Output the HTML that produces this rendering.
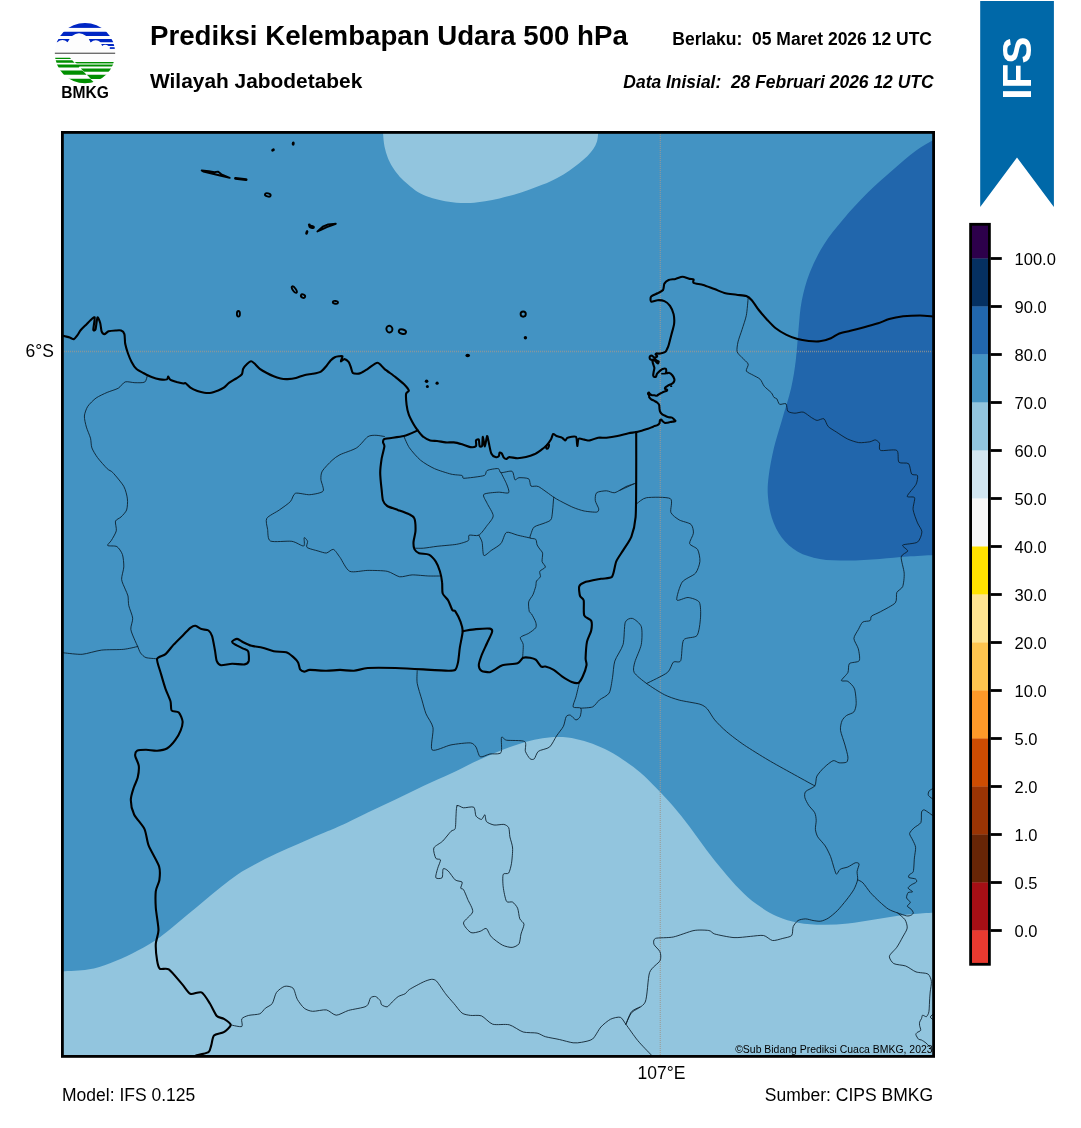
<!DOCTYPE html>
<html lang="id"><head><meta charset="utf-8"><title>Prediksi Kelembapan Udara 500 hPa</title>
<style>
html,body{margin:0;padding:0;background:#fff;}
svg{display:block;}
text{font-family:"Liberation Sans",sans-serif;fill:#000;}
.b{font-weight:bold;}
.bi{font-weight:bold;font-style:italic;}
.thick{fill:none;stroke:#000;stroke-width:2.1;stroke-linejoin:round;stroke-linecap:round;}
.thin{fill:none;stroke:#0a1a26;stroke-width:0.85;stroke-linejoin:round;stroke-linecap:round;}
.isl{fill:none;stroke:#000;stroke-width:1.9;stroke-linejoin:round;}
.islf{fill:#000;stroke:none;}
</style></head><body>
<svg width="1081" height="1128" viewBox="0 0 1081 1128">
<rect width="1081" height="1128" fill="#fff"/>

<clipPath id="lc"><circle cx="85" cy="53.1" r="30.2"/></clipPath>
<g clip-path="url(#lc)">
<rect x="54" y="22" width="62" height="62" fill="#fdfdfd"/>
<g fill="#0026c4">
<rect x="54" y="22" width="62" height="5.9"/>
<path d="M54,31.8 H116 V35.9 H86.2 Q79,30.6 72,35.9 H54 Z"/>
<path d="M54,39.1 H69.6 L67.6,42.3 Q62.5,37.6 57.2,42.3 H54 Z"/>
<path d="M88.8,39.1 H116 V42.2 H100.6 Q95.5,38 90.6,42.6 Z"/>
<path d="M101.2,44 H116 V46 H108.6 Q105,43.6 102.2,46 Z"/>
<rect x="109.8" y="47.2" width="7" height="1.7"/>
</g>
<rect x="54" y="52.6" width="62" height="1.4" fill="#6e6e6e"/>
<g fill="#008f00">
<path d="M54,57.7 H69.8 L71.2,58.9 H54 Z"/>
<path d="M54,60.2 H72.2 L74.6,62.7 H54 Z"/>
<path d="M74.6,62 H116 V63.1 H76 Z"/>
<path d="M54,64.4 H116 V66.5 H79.6 L78.8,67.6 H54 Z"/>
<path d="M80.8,68.4 H116 V71.7 H84.2 Z"/>
<path d="M54,70.4 H82.4 L86.6,74.7 H54 Z"/>
<path d="M86.9,74.8 H116 V79 H91 Z"/>
<path d="M54,78.7 H90.2 L94,82.4 L92,86 H54 Z"/>
</g>
<path d="M76,63.1 H116 V64.4 H77.2 Z" fill="#8fcf8f"/>
</g>
<text class="b" x="85.1" y="97.8" font-size="15.6" text-anchor="middle">BMKG</text>

<text class="b" x="150" y="45" font-size="27.65">Prediksi Kelembapan Udara 500 hPa</text>
<text class="b" x="150" y="88.3" font-size="20.9">Wilayah Jabodetabek</text>
<text class="b" x="932" y="44.5" font-size="17.5" text-anchor="end" xml:space="preserve">Berlaku:  05 Maret 2026 12 UTC</text>
<text class="bi" x="933.5" y="88" font-size="17.45" text-anchor="end" xml:space="preserve">Data Inisial:  28 Februari 2026 12 UTC</text>
<clipPath id="mc"><rect x="62.5" y="132.5" width="871" height="924"/></clipPath>
<g clip-path="url(#mc)">
<rect x="62" y="132" width="872" height="925" fill="#4393c3"/>
<path d="M383.1,127.4 C383.1,128.5 382.9,130.9 383.1,134.1 C383.3,137.3 383.7,142.7 384.5,146.6 C385.3,150.5 386.4,154.1 387.7,157.5 C389.0,160.9 390.5,163.9 392.5,167.1 C394.5,170.3 397.1,173.8 399.7,176.7 C402.3,179.6 405.1,182.1 408.1,184.6 C411.1,187.1 414.1,189.8 417.7,191.9 C421.3,194.0 425.7,195.8 429.7,197.2 C433.7,198.6 437.4,199.6 441.8,200.5 C446.2,201.4 451.4,202.3 456.2,202.7 C461.0,203.1 465.8,203.2 470.6,202.9 C475.4,202.7 480.3,201.9 485.1,201.2 C489.9,200.4 494.7,199.5 499.5,198.4 C504.3,197.3 509.1,196.1 513.9,194.7 C518.7,193.3 523.6,191.6 528.4,189.9 C533.2,188.2 538.0,186.6 542.8,184.6 C547.6,182.6 552.8,180.2 557.2,177.9 C561.6,175.6 565.6,173.1 569.2,170.7 C572.8,168.3 575.9,165.9 578.9,163.5 C581.9,161.1 584.9,158.7 587.3,156.3 C589.7,153.9 591.7,151.5 593.3,149.1 C594.9,146.7 596.1,144.3 596.9,141.8 C597.7,139.3 597.9,136.5 598.1,134.1 C598.3,131.7 598.3,128.5 598.3,127.4 Z" fill="#92c5de"/>
<path d="M938.0,137.5 C934.2,139.7 923.2,145.3 915.5,150.9 C907.8,156.5 899.6,163.9 891.6,170.9 C883.6,177.9 875.6,184.8 867.6,192.8 C859.6,200.8 851.0,210.0 843.7,218.7 C836.4,227.3 829.4,235.7 823.8,244.7 C818.1,253.7 813.5,263.3 809.8,272.6 C806.1,281.9 803.7,291.2 801.8,300.5 C799.9,309.8 799.6,318.4 798.6,328.4 C797.6,338.4 797.0,350.3 795.8,360.3 C794.5,370.3 793.4,378.3 791.1,388.3 C788.8,398.3 784.8,410.2 781.9,420.2 C779.0,430.2 776.1,438.8 773.9,448.1 C771.7,457.4 769.7,468.0 768.7,476.0 C767.7,484.0 767.4,489.0 767.9,496.0 C768.4,503.0 769.6,510.9 771.9,517.9 C774.2,524.9 777.6,532.1 781.9,537.8 C786.2,543.4 791.5,548.3 797.8,551.8 C804.1,555.3 811.5,557.5 819.8,559.0 C828.1,560.5 837.7,560.6 847.7,560.6 C857.7,560.6 869.6,559.7 879.6,559.0 C889.6,558.3 897.8,557.3 907.5,556.6 C917.2,555.9 932.9,555.1 938.0,554.8 Z" fill="#2166ac"/>
<path d="M58.0,971.6 C63.0,971.3 79.1,971.0 87.8,969.6 C96.5,968.2 102.6,965.9 110.0,963.2 C117.4,960.5 124.8,957.2 132.2,953.5 C139.6,949.8 147.9,945.2 154.4,941.0 C160.9,936.8 165.4,932.9 171.0,928.5 C176.6,924.1 182.1,919.2 187.7,914.6 C193.2,910.0 198.8,905.3 204.3,900.7 C209.9,896.1 215.4,891.3 221.0,886.9 C226.6,882.5 232.0,878.1 237.6,874.4 C243.2,870.7 247.8,868.2 254.3,864.7 C260.8,861.2 269.1,857.0 276.5,853.5 C283.9,850.0 291.3,847.0 298.7,843.8 C306.1,840.6 314.0,837.1 320.9,834.1 C327.8,831.1 332.5,829.4 340.3,825.8 C348.1,822.2 358.6,816.8 367.8,812.4 C377.0,808.0 386.2,803.8 395.5,799.4 C404.8,795.0 414.1,790.3 423.3,786.0 C432.6,781.7 442.7,777.4 451.0,773.5 C459.3,769.6 465.8,765.9 473.2,762.4 C480.6,758.9 488.0,755.7 495.4,752.7 C502.8,749.7 511.1,746.6 517.6,744.4 C524.1,742.2 528.8,740.9 534.3,739.7 C539.8,738.5 545.3,737.7 550.9,737.3 C556.5,736.9 562.0,736.9 567.6,737.5 C573.2,738.1 578.7,739.5 584.2,741.1 C589.8,742.7 595.4,744.7 600.9,747.2 C606.4,749.7 611.0,751.9 617.5,756.1 C624.0,760.3 633.5,766.8 640.0,772.2 C646.5,777.6 651.0,782.6 656.5,788.3 C662.0,794.0 667.7,799.8 673.2,806.2 C678.8,812.7 684.2,819.7 689.8,827.0 C695.3,834.3 701.0,842.6 706.5,849.9 C712.0,857.2 717.6,864.1 723.1,870.7 C728.6,877.3 734.2,883.9 739.8,889.4 C745.3,894.9 750.1,899.5 756.4,904.0 C762.6,908.5 770.3,913.4 777.3,916.5 C784.2,919.6 790.5,921.3 798.1,922.7 C805.7,924.1 814.8,924.6 823.1,924.8 C831.4,924.9 839.7,924.4 848.0,923.6 C856.3,922.8 864.7,921.1 873.0,919.8 C881.3,918.5 889.7,916.8 898.0,915.7 C906.3,914.6 916.3,913.7 923.0,913.2 C929.7,912.7 935.5,912.7 938.0,912.6 L938.0,1060.0 L58.0,1060.0 Z" fill="#92c5de"/>
<line x1="62" y1="351.5" x2="934" y2="351.5" stroke="#a09a90" stroke-width="1.3" stroke-dasharray="0.9,1.1" opacity="0.8"/>
<line x1="660.3" y1="132" x2="660.3" y2="1057" stroke="#a09a90" stroke-width="1.3" stroke-dasharray="0.9,1.1" opacity="0.8"/>
<path class="thin" d="M147.4,375.2 C147.1,376.1 146.3,381.2 144.7,382.1 C143.1,383.0 137.3,382.7 134.9,382.7 C132.5,382.7 127.3,381.2 125.2,381.9 C123.1,382.6 120.5,386.9 118.3,388.2 C116.0,389.5 110.0,391.2 107.2,392.4 C104.4,393.6 98.5,396.3 96.1,398.0 C93.7,399.7 89.3,404.1 87.8,406.3 C86.3,408.6 84.6,413.4 84.4,416.0 C84.2,418.6 85.6,424.3 86.4,427.1 C87.2,429.9 89.8,435.6 90.5,438.2 C91.2,440.8 91.0,445.5 91.9,447.9 C92.8,450.3 95.6,455.0 97.5,457.6 C99.4,460.2 105.3,466.8 107.2,468.7 C109.1,470.6 110.9,470.5 112.7,472.5 C114.8,474.7 122.0,483.1 123.8,486.4 C125.6,489.7 127.1,495.9 127.4,498.9 C127.8,501.8 127.4,507.8 126.6,510.0 C125.8,512.2 122.5,515.5 121.1,516.9 C119.7,518.3 116.1,519.4 115.5,521.1 C114.9,522.8 116.8,528.4 116.3,530.8 C115.8,533.2 112.4,538.7 111.3,540.5 C110.2,542.3 107.0,544.7 107.7,545.5 C108.4,546.3 115.1,545.5 116.9,546.6 C118.7,547.7 121.5,551.9 122.4,554.4 C123.3,556.9 123.9,563.8 123.8,566.9 C123.7,570.0 121.4,576.5 121.6,579.3 C121.8,582.1 124.4,587.0 125.2,589.1 C126.0,591.2 127.5,593.9 128.0,596.0 C128.4,598.1 128.2,602.9 128.8,605.7 C129.4,608.5 132.4,615.2 132.7,618.2 C132.9,621.2 130.5,626.5 130.8,629.3 C131.1,632.1 134.0,638.2 134.9,640.4 C135.8,642.5 137.0,644.9 137.7,646.5 C138.4,648.1 139.5,651.5 140.5,652.9 C141.5,654.3 143.9,656.9 146.0,657.6 C148.1,658.3 155.7,658.6 157.1,658.8"/>
<path class="thin" d="M62.0,652.5 C62.3,652.5 63.3,652.8 64.2,652.9 C66.7,653.1 77.5,654.6 82.2,654.3 C86.9,653.9 96.4,650.7 101.6,650.1 C106.8,649.5 119.3,649.8 123.8,649.3 C128.3,648.8 136.0,646.9 137.7,646.5"/>
<path class="thin" d="M384.4,436.5 C383.4,436.4 378.2,435.3 376.1,435.3 C374.0,435.3 370.2,435.1 367.8,436.7 C365.4,438.3 360.2,445.6 356.7,447.8 C353.2,450.1 343.1,453.1 340.0,454.7 C336.9,456.3 334.2,458.3 332.0,460.4 C329.8,462.4 323.7,468.7 322.3,471.1 C320.9,473.5 320.8,476.9 320.9,479.4 C321.0,481.9 324.5,489.2 323.1,491.1 C321.7,493.0 313.3,494.4 309.8,494.7 C306.3,495.0 297.8,492.4 295.4,493.3 C293.0,494.2 292.4,499.5 290.4,501.6 C288.4,503.7 282.2,507.9 279.3,510.0 C276.4,512.1 268.3,515.9 266.8,518.3 C265.3,520.7 267.2,526.6 267.6,529.4 C268.1,532.2 267.4,539.5 270.4,541.0 C273.4,542.5 287.6,540.7 291.8,541.3 C296.0,541.9 302.1,546.5 303.7,546.0 C305.2,545.5 303.7,538.3 304.2,537.7 C304.7,537.1 307.2,540.1 307.6,541.3 C308.0,542.5 305.7,546.2 307.0,547.4 C308.3,548.6 315.7,550.3 318.1,551.0 C320.5,551.7 324.5,553.2 326.4,553.0 C328.3,552.8 331.7,548.9 333.4,549.4 C335.1,549.9 338.0,554.7 340.0,557.4 C342.0,560.1 346.2,569.7 349.7,571.3 C353.2,572.9 363.1,570.4 367.8,570.4 C372.5,570.4 383.2,570.5 387.2,571.3 C391.2,572.1 396.6,576.3 399.7,576.8 C402.8,577.2 408.6,575.0 412.2,574.9 C415.8,574.8 425.3,575.9 428.8,576.0 C432.3,576.1 438.5,576.0 439.9,576.0"/>
<path class="thin" d="M403.8,436.1 C404.5,437.6 407.3,444.8 409.4,447.8 C411.5,450.8 417.4,457.6 420.5,460.2 C423.6,462.8 430.6,466.9 434.4,468.6 C438.2,470.3 447.5,473.2 451.0,474.1 C454.5,475.0 460.5,475.0 462.1,475.5 C463.3,475.9 462.2,478.3 463.5,478.3 C466.3,478.3 481.4,476.5 484.3,475.5 C486.5,474.8 485.4,471.4 487.1,470.5 C488.8,469.6 496.5,468.3 498.2,468.6 C499.9,468.9 499.3,472.4 501.0,472.7 C502.7,473.0 510.4,470.4 512.1,471.3 C513.8,472.2 514.0,478.9 514.9,479.7 C515.8,480.5 517.3,477.8 519.0,477.7 C520.7,477.6 527.2,477.8 528.7,478.8 C530.2,479.9 529.8,485.1 531.0,486.1 C532.2,487.1 535.8,485.3 538.5,486.6 C541.3,488.0 551.1,495.5 553.7,497.2 C555.9,498.6 557.0,499.3 559.3,500.5 C561.7,501.8 570.0,506.1 573.1,507.4 C576.2,508.7 581.2,510.4 584.2,511.0 C587.2,511.6 594.9,512.4 596.7,512.1 C598.2,511.9 598.9,510.2 598.7,508.8 C598.5,507.4 595.5,502.5 595.3,500.5 C595.0,498.5 595.3,493.9 596.7,492.7 C598.1,491.5 604.1,490.8 606.4,490.8 C608.7,490.8 612.4,493.2 614.8,492.7 C617.2,492.2 623.3,487.8 625.9,486.6 C628.5,485.4 634.4,483.7 635.6,483.3"/>
<path class="thin" d="M501.0,472.7 C501.7,474.1 505.5,481.3 506.5,483.8 C507.5,486.3 509.7,491.6 508.7,492.7 C507.7,493.8 501.3,492.0 498.2,492.2 C495.1,492.4 485.2,493.0 483.8,494.4 C482.4,495.8 485.9,500.6 487.1,503.3 C488.3,506.0 493.2,513.0 493.2,515.8 C493.2,518.6 488.9,523.1 487.1,525.5 C485.3,527.9 481.1,534.0 478.8,535.2 C476.6,536.4 470.4,534.5 469.1,535.2 C467.8,535.9 469.8,539.6 468.2,540.7 C466.6,541.8 460.5,543.6 456.6,544.3 C452.7,545.0 441.3,545.8 437.1,546.3 C432.9,546.8 426.1,548.0 423.3,548.2 C420.5,548.4 415.5,548.2 414.4,548.2"/>
<path class="thin" d="M478.8,535.2 C479.2,536.1 481.5,539.6 482.1,542.1 C482.7,544.6 482.7,554.4 483.8,555.4 C484.9,556.4 489.2,551.9 491.3,550.4 C493.4,548.9 499.1,545.8 501.0,543.5 C502.9,541.2 504.4,533.4 506.5,532.4 C508.6,531.4 514.6,534.5 517.6,535.2 C520.6,535.9 528.5,537.6 530.1,538.0"/>
<path class="thin" d="M553.7,497.2 C553.4,499.9 552.5,515.3 551.5,518.5 C550.6,521.3 547.5,521.7 545.4,522.7 C543.2,523.8 536.1,525.5 534.3,526.9 C532.5,528.3 531.5,532.4 531.0,533.8 C530.5,535.2 529.5,537.3 530.1,538.0 C530.7,538.7 534.8,538.4 535.7,539.3 C536.6,540.2 536.6,543.7 537.1,544.9 C537.6,546.1 539.1,548.1 539.8,549.1 C540.5,550.1 542.3,551.6 542.6,553.2 C542.9,554.8 541.8,559.9 542.1,561.6 C542.5,563.3 545.7,565.9 545.4,567.1 C545.1,568.3 540.4,570.1 539.8,571.3 C539.2,572.5 540.8,575.6 540.4,576.8 C540.0,578.0 537.1,579.8 536.5,581.0 C535.9,582.2 536.2,584.8 535.7,586.5 C535.2,588.2 533.8,592.9 532.9,594.8 C532.0,596.7 529.2,599.7 528.7,601.8 C528.2,603.9 528.9,610.0 529.3,611.5 C529.6,612.8 530.8,612.8 531.5,613.9 C532.3,615.2 535.2,620.5 535.7,622.2 C536.2,623.9 536.6,626.4 535.7,627.8 C534.8,629.2 530.6,632.1 528.7,633.3 C526.8,634.5 521.1,636.1 520.4,637.5 C519.7,638.9 522.9,641.9 523.2,644.4 C523.5,646.9 522.7,656.0 522.6,657.7"/>
<path class="thin" d="M620.0,490.3 C621.8,489.5 632.4,484.6 634.2,483.8"/>
<path class="thin" d="M636.9,503.6 C638.1,502.9 642.4,498.3 646.6,497.7 C650.8,497.1 667.3,496.8 670.3,498.6 C673.3,500.5 669.8,509.8 670.9,512.5 C672.0,515.2 676.7,518.4 679.2,519.9 C681.7,521.4 689.2,522.7 691.0,524.4 C692.8,526.1 693.6,530.8 693.4,533.2 C693.2,535.6 689.1,541.6 689.6,543.6 C690.1,545.6 696.3,547.3 697.6,549.5 C698.9,551.7 700.2,558.4 699.9,561.4 C699.6,564.4 697.7,570.6 695.5,573.2 C693.3,575.8 684.5,578.8 682.2,582.1 C679.9,585.4 676.1,598.0 676.8,599.9 C677.5,601.8 685.3,597.2 688.1,597.5 C690.9,597.8 697.8,599.7 699.3,602.2 C700.8,604.7 700.8,613.6 700.5,617.8 C700.2,622.0 699.1,632.7 697.0,635.5 C694.9,638.3 685.6,636.9 683.6,640.0 C681.6,643.1 682.0,657.9 680.7,660.7 C679.4,663.4 675.0,660.7 673.3,662.2 C671.6,663.7 670.7,669.8 667.4,672.5 C664.1,675.2 649.2,682.1 646.6,683.5"/>
<path class="thin" d="M580.9,708.2 C582.4,708.0 590.3,707.9 592.6,706.9 C594.9,705.9 597.4,701.6 599.5,699.9 C601.6,698.2 607.6,695.8 609.2,693.0 C610.8,690.2 611.8,681.7 612.5,677.7 C613.2,673.7 613.5,665.3 614.8,661.1 C616.1,656.9 621.8,649.3 623.1,644.4 C624.4,639.5 624.1,625.5 625.3,622.2 C626.4,619.2 630.4,617.9 632.4,618.4 C634.4,618.9 640.2,623.4 641.3,626.6 C642.4,629.9 642.1,639.9 641.3,644.4 C640.5,648.9 635.7,658.7 634.8,662.2 C633.9,665.7 632.7,669.8 634.2,672.5 C635.7,675.2 642.8,680.7 646.6,683.5 C650.4,686.3 660.3,692.6 664.4,694.7 C668.5,696.8 674.8,698.9 679.2,700.1 C683.6,701.3 696.4,703.1 699.9,704.2 C703.2,705.2 705.4,706.9 707.3,708.9 C709.1,710.9 712.3,717.0 714.7,719.9 C717.1,722.8 722.9,728.6 726.6,731.7 C730.3,734.9 739.1,741.6 744.3,745.1 C749.5,748.6 762.1,756.4 768.0,759.9 C773.9,763.4 785.9,770.0 791.7,773.2 C797.6,776.5 811.9,784.3 814.8,785.9"/>
<path class="thin" d="M417.2,670.8 C417.2,672.4 416.6,679.7 417.2,683.3 C417.8,686.9 420.8,696.1 421.9,699.9 C423.0,703.7 424.6,710.3 426.0,713.8 C427.4,717.3 432.2,723.2 433.0,727.7 C433.8,732.2 429.9,747.8 432.1,749.9 C434.4,752.0 446.2,745.8 451.0,744.9 C455.8,744.0 467.3,742.6 470.4,742.9 C473.2,743.1 474.8,745.4 476.0,747.1 C477.2,748.8 478.5,755.9 480.2,756.8 C481.9,757.7 487.3,754.5 489.9,754.0 C492.5,753.5 499.6,754.7 501.0,752.6 C502.4,750.5 500.8,738.9 501.5,737.4 C502.2,735.9 504.2,739.8 506.5,740.2 C509.4,740.7 522.2,740.1 524.6,741.5 C527.0,742.9 524.7,749.1 525.4,751.3 C526.1,753.5 529.0,757.9 530.1,758.8 C531.2,759.7 533.3,759.7 534.3,758.8 C535.3,757.9 536.5,752.8 538.4,751.3 C540.3,749.8 547.2,749.0 549.5,747.1 C551.8,745.2 554.8,738.6 556.5,736.0 C558.2,733.4 562.2,728.7 563.4,726.3 C564.6,723.9 565.3,718.0 566.2,716.6 C567.1,715.2 569.2,714.8 570.4,715.2 C571.6,715.6 574.7,719.7 575.9,719.9 C577.1,720.1 579.5,718.1 580.1,716.6 C580.7,715.1 581.8,709.4 580.9,708.2 C580.0,707.0 573.7,708.3 573.1,706.9 C572.5,705.5 575.1,700.1 575.9,697.1 C576.7,694.1 578.8,685.0 579.2,683.3"/>
<path class="thin" d="M748.2,297.5 C748.0,299.8 747.1,311.5 746.3,315.5 C745.5,319.5 743.1,326.1 742.1,329.4 C741.1,332.7 738.6,339.1 738.0,341.9 C737.4,344.7 736.6,349.6 737.1,351.6 C737.6,353.6 740.7,356.1 742.1,357.7 C743.5,359.3 747.7,362.4 748.2,364.1 C748.7,365.8 745.7,369.6 746.3,371.0 C746.9,372.4 751.5,374.2 753.2,375.2 C754.9,376.2 758.8,377.9 760.2,379.3 C761.6,380.7 762.9,384.6 764.3,386.3 C765.7,388.0 770.1,391.3 771.3,392.7 C772.5,394.1 773.3,396.6 774.0,397.4 C774.7,398.2 776.1,397.9 776.8,398.8 C777.5,399.7 778.5,403.7 779.6,404.3 C780.8,404.9 785.0,402.9 786.0,403.8 C787.0,404.7 786.8,410.1 787.9,411.3 C789.0,412.5 793.0,413.1 794.9,413.2 C796.8,413.3 801.1,411.6 803.2,412.1 C805.3,412.7 809.8,416.6 811.5,417.6 C813.2,418.6 815.5,420.2 817.1,420.4 C818.7,420.5 822.6,418.0 824.0,418.8 C825.4,419.6 826.6,424.8 828.2,426.5 C829.8,428.2 834.1,430.5 836.5,432.1 C838.9,433.7 844.8,437.7 847.6,439.0 C850.4,440.3 855.9,442.2 858.7,442.6 C861.5,443.0 867.7,442.1 869.8,441.8 C871.9,441.5 874.1,439.7 875.3,439.9 C876.5,440.1 878.9,441.9 879.5,443.2 C880.1,444.5 878.3,449.5 880.5,450.4 C882.7,451.3 894.5,448.9 896.8,450.4 C899.1,451.9 897.4,460.5 898.9,462.2 C900.4,463.9 907.0,462.2 908.6,463.7 C910.2,465.2 910.5,472.5 911.6,474.0 C912.7,475.5 917.0,474.2 917.5,475.5 C918.0,476.8 917.3,481.8 916.0,484.4 C914.7,487.0 907.4,494.5 907.2,496.2 C907.0,497.9 913.9,496.0 914.6,497.7 C915.3,499.4 912.7,506.5 913.1,509.6 C913.5,512.8 916.4,520.1 917.5,522.9 C918.6,525.7 921.9,529.4 921.9,531.8 C921.9,534.2 919.9,540.4 917.5,542.1 C915.1,543.8 903.9,544.0 902.7,545.1 C901.5,546.2 907.9,549.5 907.7,551.0 C907.5,552.5 901.6,554.1 901.2,556.9 C900.8,559.7 904.0,569.5 904.2,573.2 C904.4,576.9 903.6,584.1 902.7,586.5 C901.8,588.9 897.7,590.5 896.8,592.5 C895.9,594.5 897.3,600.4 895.3,602.8 C893.3,605.2 883.5,610.0 880.5,611.7 C877.5,613.4 872.9,615.0 871.6,616.1 C870.3,617.2 871.2,619.9 870.1,620.6 C869.0,621.4 864.2,621.0 862.7,622.1 C861.2,623.2 859.4,627.6 858.3,629.6 C857.2,631.6 853.9,636.1 853.9,638.5 C853.9,640.9 857.6,646.0 858.3,648.8 C859.0,651.6 860.3,658.9 859.2,660.7 C858.1,662.6 850.8,662.1 849.4,663.6 C848.0,665.1 848.9,670.4 847.9,672.5 C846.9,674.6 841.4,679.4 841.4,680.5 C841.4,681.6 846.3,680.4 847.9,681.4 C849.5,682.4 853.5,686.0 854.5,688.8 C855.5,691.6 856.3,700.7 856.2,703.6 C856.1,706.5 855.1,710.4 853.9,711.9 C852.7,713.4 848.0,714.4 846.5,715.5 C845.0,716.6 842.8,718.9 842.0,720.8 C841.2,722.6 840.1,727.3 840.5,730.3 C840.9,733.3 844.1,741.8 845.0,745.1 C845.9,748.4 847.7,754.8 847.9,756.9 C848.1,759.0 847.6,761.5 846.5,762.2 C845.4,762.9 840.8,763.0 839.1,762.8 C837.4,762.6 835.0,760.1 833.1,760.7 C831.2,761.3 826.3,765.4 824.3,767.3 C822.3,769.2 818.1,773.8 816.9,776.1 C815.7,778.4 816.2,784.0 814.8,785.9 C813.4,787.8 806.8,790.1 805.6,791.6 C804.4,793.1 804.5,796.0 804.9,797.7 C805.3,799.4 807.4,803.3 808.6,805.2 C809.8,807.1 813.8,810.8 814.7,812.7 C815.7,814.6 816.1,818.2 816.2,820.3 C816.3,822.4 815.2,827.2 815.4,829.3 C815.6,831.4 816.5,834.7 817.7,836.8 C818.9,838.9 823.6,843.4 825.2,845.9 C826.8,848.4 829.4,853.6 830.5,856.4 C831.6,859.2 833.5,866.3 834.2,868.5 C835.0,870.7 835.7,874.1 836.5,874.2 C837.3,874.3 838.9,870.1 840.3,869.2 C841.7,868.3 845.9,867.8 847.8,867.0 C849.7,866.2 853.9,863.2 855.3,862.8 C856.7,862.4 858.9,862.9 859.1,864.0 C859.3,865.1 857.3,869.5 857.1,871.5 C856.9,873.5 858.0,877.5 857.6,879.8 C857.2,882.1 855.2,887.1 853.8,889.6 C852.4,892.1 848.4,897.5 846.3,900.1 C844.2,902.7 839.6,908.4 837.3,910.7 C835.0,913.0 830.3,916.9 828.2,918.2 C826.1,919.5 822.6,920.9 820.7,921.2 C818.8,921.5 815.0,920.8 813.1,920.5 C811.2,920.2 807.5,918.9 805.6,918.9 C803.7,918.9 799.6,919.5 798.1,920.5 C796.6,921.5 794.0,924.7 793.2,926.6 C792.4,928.5 793.0,934.0 791.7,935.5 C790.4,937.0 785.2,937.8 782.8,938.4 C780.4,939.0 774.9,940.9 772.5,940.5 C770.1,940.1 766.4,936.0 763.6,935.5 C760.8,935.0 754.0,936.1 750.3,936.4 C746.6,936.7 738.5,937.9 734.0,937.6 C729.5,937.3 717.9,934.9 714.7,934.0 C712.1,933.3 711.4,930.9 708.8,930.5 C706.2,930.1 698.4,929.7 694.0,930.5 C689.6,931.3 678.1,936.0 673.3,937.0 C668.5,938.0 657.9,937.5 655.5,938.4 C653.2,939.3 653.4,942.7 654.0,944.4 C654.6,946.1 659.2,949.8 660.0,951.8 C660.8,953.8 661.3,958.1 660.0,960.7 C658.7,963.3 651.5,967.3 649.6,972.5 C647.8,977.7 647.4,997.1 645.2,1002.1 C643.0,1007.1 634.2,1009.7 631.8,1012.5 C629.4,1015.3 626.6,1022.8 625.9,1024.3"/>
<path class="thin" d="M857.6,879.8 C858.3,880.2 861.3,881.2 862.9,882.8 C864.5,884.4 868.3,890.2 870.4,892.6 C872.5,895.0 877.1,899.5 879.4,901.6 C881.7,903.7 886.2,907.8 888.5,909.2 C890.8,910.6 895.2,912.1 897.5,912.9 C899.8,913.7 904.9,915.6 906.6,915.9 C908.3,916.2 910.3,915.6 911.1,915.2 C911.9,914.8 913.3,913.6 913.3,912.9 C913.3,912.1 911.9,910.1 911.1,909.2 C910.4,908.4 907.4,907.0 907.3,906.1 C907.2,905.2 910.4,903.4 910.3,902.4 C910.2,901.4 906.9,899.1 906.6,897.9 C906.3,896.7 907.4,893.4 908.1,892.6 C908.9,891.8 912.6,892.4 912.6,891.8 C912.6,891.2 908.3,889.0 908.1,888.1 C907.9,887.2 910.1,885.8 911.1,885.0 C912.1,884.2 915.8,882.8 916.4,882.0 C917.0,881.2 916.6,879.6 915.6,879.0 C914.6,878.4 909.5,878.1 908.8,877.5 C908.0,876.9 909.0,875.2 909.6,874.5 C910.2,873.8 912.8,873.3 913.3,871.5 C913.9,869.4 914.1,860.9 914.4,857.9 C914.7,854.9 915.8,849.6 915.6,847.4 C915.4,845.1 913.4,841.6 912.6,839.9 C911.9,838.2 909.4,835.0 909.6,833.5 C909.8,832.0 912.7,829.2 914.1,827.8 C915.5,826.4 920.0,824.5 920.9,822.5 C921.8,820.5 921.1,813.6 921.6,812.0 C922.0,810.6 923.2,809.5 924.6,810.0 C926.1,810.6 932.8,815.7 934.0,816.5"/>
<path class="thin" d="M897.5,912.9 C898.4,913.8 903.8,917.8 905.0,919.7 C906.2,921.6 907.5,925.9 907.2,928.1 C906.9,930.3 904.0,934.6 902.7,937.0 C901.4,939.4 898.5,944.9 896.8,947.3 C895.1,949.7 889.8,954.2 889.4,956.2 C889.0,958.2 891.8,962.4 893.8,963.6 C895.8,964.8 902.9,965.0 905.7,966.0 C908.5,967.0 913.2,970.9 916.0,971.9 C918.8,972.9 926.0,972.8 927.9,974.0 C929.8,975.2 931.1,979.1 931.4,981.4 C931.7,983.6 930.4,989.7 930.2,992.0 C930.0,994.3 929.7,997.9 929.6,1000.0 C929.5,1002.1 929.3,1007.2 929.2,1008.9 C929.1,1010.6 928.9,1012.3 928.5,1013.3 C928.1,1014.3 927.0,1016.5 926.3,1016.7 C925.6,1016.9 923.2,1015.0 922.6,1015.2 C922.0,1015.4 921.9,1017.6 921.5,1018.5 C921.1,1019.4 919.8,1021.3 919.6,1022.2 C919.4,1023.1 919.5,1024.5 919.6,1025.5 C919.7,1026.5 921.0,1029.4 920.7,1030.3 C920.4,1031.2 917.6,1032.0 917.0,1032.6 C916.4,1033.2 915.7,1034.0 915.9,1034.8 C916.1,1035.6 917.8,1038.5 918.5,1039.2 C919.2,1039.9 920.6,1039.5 921.5,1040.0 C922.4,1040.5 924.9,1042.1 925.9,1042.9 C926.9,1043.7 928.6,1045.6 929.6,1046.6 C930.6,1047.5 933.5,1050.0 934.0,1050.5"/>
<path class="thin" d="M934.0,788.0 C933.4,788.4 929.9,790.0 929.2,790.9 C928.5,791.8 927.8,794.3 928.4,795.4 C929.0,796.5 933.3,799.4 934.0,800.0"/>
<path class="thin" d="M934.0,1013.5 C933.5,1013.9 930.3,1016.1 930.3,1017.0 C930.3,1017.9 933.5,1020.1 934.0,1020.5"/>
<path class="thin" d="M230.7,1024.9 C232.1,1025.1 240.4,1027.3 241.8,1026.5 C243.2,1025.7 240.9,1020.2 241.8,1018.8 C242.7,1017.4 246.4,1016.0 248.7,1015.4 C250.9,1014.8 257.7,1014.7 259.8,1013.8 C261.9,1012.9 263.8,1009.5 265.4,1008.2 C267.0,1006.9 270.9,1005.5 272.3,1003.5 C273.7,1001.5 274.9,994.5 276.5,992.4 C278.1,990.2 282.7,986.8 284.8,986.3 C286.9,985.8 291.5,986.6 293.1,988.2 C294.7,989.8 295.9,996.8 297.3,999.3 C298.7,1001.8 302.3,1006.7 304.2,1008.2 C306.1,1009.7 309.8,1011.1 312.6,1011.3 C315.4,1011.5 323.4,1009.4 326.4,1009.9 C329.3,1010.4 333.4,1015.1 336.2,1015.2 C339.0,1015.3 344.8,1011.5 348.6,1010.4 C352.4,1009.3 363.7,1007.8 366.4,1006.2 C369.1,1004.6 369.4,999.1 370.5,997.9 C371.6,996.7 374.3,996.2 375.5,996.5 C376.7,996.8 379.4,999.6 380.2,1000.6 C381.0,1001.6 380.7,1004.0 381.6,1004.8 C382.5,1005.6 385.9,1007.1 387.2,1006.8 C388.5,1006.4 390.8,1003.3 392.2,1002.0 C393.6,1000.7 396.7,997.5 398.3,996.5 C399.9,995.5 403.8,994.6 405.2,993.7 C406.6,992.8 407.4,990.8 409.4,989.5 C411.7,988.0 420.5,983.3 423.3,982.0 C426.1,980.7 429.9,979.4 431.6,979.3 C433.3,979.2 435.1,979.7 436.6,981.2 C438.3,983.0 443.4,990.9 445.5,993.7 C447.6,996.5 451.7,1001.0 453.8,1003.4 C455.9,1005.8 460.0,1011.6 462.1,1013.1 C464.2,1014.6 468.0,1015.0 470.4,1015.4 C472.8,1015.8 478.7,1014.8 481.5,1015.9 C484.3,1017.0 489.2,1023.1 492.7,1024.2 C496.2,1025.3 505.5,1023.8 509.3,1024.8 C513.1,1025.8 519.7,1031.0 523.2,1032.0 C526.7,1033.0 534.3,1032.5 537.1,1033.1 C539.9,1033.7 542.6,1035.9 545.4,1036.7 C548.2,1037.5 555.8,1038.7 559.3,1039.5 C562.8,1040.3 570.3,1042.5 573.1,1042.8 C575.9,1043.1 579.1,1042.8 581.5,1042.3 C583.9,1041.8 590.2,1040.9 592.6,1039.0 C595.0,1037.1 598.6,1029.5 600.9,1027.0 C603.1,1024.5 608.2,1020.4 610.6,1019.2 C613.0,1018.0 618.4,1016.7 620.3,1017.3 C622.2,1017.9 623.7,1021.4 625.9,1024.3 C628.1,1027.2 634.6,1036.8 637.8,1040.6 C640.9,1044.4 649.4,1053.0 651.1,1054.8"/>
<path class="thin" d="M625.9,1024.3 C626.6,1022.7 629.6,1014.0 631.4,1011.8 C633.2,1009.6 638.9,1007.6 640.0,1007.0"/>
<path class="thin" d="M457.1,805.5 C458.0,804.5 461.4,807.6 463.5,807.8 C465.6,808.0 472.2,806.2 473.8,807.2 C475.4,808.2 475.0,814.6 476.0,816.1 C477.0,817.6 480.4,819.6 481.5,819.4 C482.6,819.2 484.3,814.4 484.9,814.7 C485.5,815.0 485.4,820.3 486.5,821.6 C487.6,822.9 491.8,824.6 494.0,825.0 C496.2,825.4 502.0,824.1 503.8,824.4 C505.6,824.7 507.9,826.1 508.7,827.7 C509.5,829.3 509.4,834.4 509.9,836.9 C510.4,839.4 512.4,844.7 512.6,848.0 C512.8,851.3 512.0,860.2 511.5,863.3 C511.0,866.4 509.7,871.6 508.7,873.0 C507.7,874.4 503.9,872.7 503.2,874.4 C502.5,876.1 502.8,883.5 503.2,886.9 C503.6,890.3 505.3,899.4 506.5,901.3 C507.7,903.2 511.2,901.2 512.6,902.1 C514.0,903.0 516.7,906.1 517.6,908.2 C518.5,910.3 519.0,916.8 519.8,918.8 C520.6,920.8 523.9,922.4 524.0,924.3 C524.1,926.2 521.6,931.6 521.0,934.0 C520.4,936.4 520.1,942.1 519.0,943.8 C517.9,945.5 514.2,947.2 512.1,947.4 C510.0,947.6 505.0,946.4 502.4,945.1 C499.8,943.8 493.3,938.9 491.3,936.8 C489.3,934.7 487.7,929.2 486.3,928.5 C484.9,927.8 482.1,930.8 480.2,931.3 C478.3,931.8 473.1,933.6 471.0,932.6 C468.9,931.6 463.3,925.5 463.5,922.9 C463.7,920.3 472.2,914.8 472.7,911.8 C473.2,908.8 468.8,902.1 467.7,899.3 C466.6,896.5 464.4,891.0 463.5,889.6 C462.8,888.5 460.9,889.1 460.7,888.2 C460.5,887.3 462.8,883.1 462.1,882.1 C461.4,881.1 456.9,881.3 455.2,879.9 C453.5,878.5 449.7,872.4 448.2,871.0 C446.7,869.6 444.0,868.0 443.2,868.8 C442.4,869.6 443.0,876.6 442.1,877.7 C441.2,878.8 436.4,878.9 435.8,877.7 C435.2,876.5 437.1,870.5 437.7,868.3 C438.3,866.1 440.7,861.1 440.5,859.9 C440.3,858.6 436.6,859.8 435.8,858.3 C435.0,856.8 432.9,850.1 433.8,848.0 C434.7,845.9 440.6,843.2 442.7,841.1 C444.8,839.0 449.4,832.9 451.0,831.3 C452.4,829.9 454.6,830.5 455.2,828.6 C455.8,826.7 455.8,819.0 456.0,816.1 C456.2,813.2 456.2,806.5 457.1,805.5 Z"/>
<path class="thick" d="M62.0,335.5 C62.3,335.6 63.3,335.9 64.2,336.1 C65.2,336.4 68.5,337.1 69.7,337.5 C70.9,337.9 73.0,339.4 73.9,339.1 C74.8,338.9 76.3,336.6 77.2,335.5 C78.1,334.4 79.6,331.4 80.8,330.0 C82.0,328.6 85.2,325.6 86.4,324.4 C87.6,323.2 89.5,321.1 90.5,320.2 C91.5,319.3 94.4,316.3 94.7,317.5 C95.0,318.7 93.2,328.5 93.3,330.0 C93.4,330.9 95.2,330.3 95.5,329.4 C96.0,327.8 96.9,318.3 97.5,317.5 C98.1,316.7 99.7,321.3 100.2,323.0 C100.7,324.7 101.1,329.9 101.6,331.3 C102.1,332.7 103.5,334.1 104.4,334.1 C105.3,334.1 107.2,331.8 108.6,331.3 C110.0,330.9 113.9,330.6 115.5,330.5 C117.1,330.4 120.0,330.1 121.1,330.5 C122.2,330.9 123.9,332.4 124.4,334.1 C124.9,335.8 124.8,341.4 125.2,343.8 C125.7,346.2 127.2,351.2 128.0,353.5 C128.8,355.8 130.6,360.0 131.6,361.9 C132.6,363.8 134.8,367.4 136.3,368.8 C137.8,370.2 141.4,372.0 143.3,373.0 C145.2,374.0 149.5,376.3 151.6,377.1 C153.7,377.9 158.0,379.1 159.9,379.4 C161.8,379.7 165.9,379.8 166.9,379.4 C167.9,379.0 167.8,376.5 168.2,376.6 C168.6,376.7 169.4,379.2 170.5,379.9 C171.6,380.6 175.0,381.4 176.6,381.9 C178.2,382.3 182.4,383.3 183.5,383.5 C184.3,383.6 184.8,382.8 185.5,383.2 C186.4,383.7 188.9,386.7 190.4,387.7 C191.9,388.7 195.7,390.4 197.4,391.0 C199.1,391.6 202.6,392.5 204.3,392.7 C206.0,392.9 209.6,393.0 211.3,392.7 C213.0,392.4 216.6,391.1 218.2,390.5 C219.8,389.9 222.4,388.7 223.8,387.7 C225.2,386.7 227.8,383.8 229.3,382.7 C230.9,381.6 234.6,379.5 236.2,378.5 C237.8,377.5 240.9,375.6 241.8,374.4 C242.7,373.2 242.5,370.1 243.2,368.8 C243.9,367.5 246.3,364.7 247.3,363.8 C248.3,362.9 250.1,361.4 251.0,361.3 C251.9,361.2 253.2,362.4 254.3,363.3 C255.4,364.2 258.2,367.6 259.8,368.8 C261.4,370.0 265.1,372.1 266.8,373.0 C268.5,373.9 272.0,375.6 273.7,376.3 C275.4,377.0 278.9,378.1 280.6,378.5 C282.3,378.9 285.7,379.2 287.6,379.1 C289.5,379.0 293.8,378.5 295.9,378.0 C298.0,377.5 302.1,375.7 304.2,375.2 C306.3,374.7 310.5,374.2 312.6,373.8 C314.7,373.4 319.2,372.6 320.9,371.6 C322.6,370.6 325.2,367.4 326.4,366.0 C327.6,364.6 329.6,361.6 330.6,360.5 C331.7,359.4 333.8,357.7 334.8,357.2 C335.8,356.7 337.9,356.4 338.9,356.3 C339.9,356.2 342.2,355.7 342.5,356.3 C342.8,356.9 340.6,360.9 340.9,361.3 C341.1,361.7 343.5,359.0 344.5,359.1 C345.5,359.2 347.8,360.9 348.6,361.9 C349.4,362.9 350.4,366.0 350.9,367.4 C351.4,368.8 352.0,372.2 352.8,373.0 C353.6,373.8 356.0,373.8 357.0,373.8 C358.0,373.8 359.4,373.6 360.8,373.0 C362.2,372.4 365.7,370.1 367.8,368.8 C369.9,367.5 375.4,362.7 377.5,362.7 C379.6,362.7 382.1,367.0 384.4,368.8 C386.6,370.6 393.1,375.2 395.5,377.1 C397.9,379.0 402.1,382.4 403.8,384.1 C405.5,385.8 408.5,389.3 408.8,390.5 C409.1,391.7 406.4,392.1 406.1,393.8 C405.8,395.6 406.3,402.3 406.6,404.9 C406.9,407.5 407.9,412.2 408.8,414.6 C409.7,417.0 412.5,422.3 413.6,424.3 C414.7,426.3 416.5,428.8 417.7,430.4 C418.9,432.0 421.7,435.6 423.3,436.8 C424.9,438.1 428.5,439.9 430.2,440.4 C431.9,440.9 435.2,440.8 437.1,441.0 C439.0,441.2 443.4,442.2 445.5,442.4 C447.6,442.6 451.7,442.2 453.8,442.4 C455.9,442.6 460.0,443.7 462.1,444.3 C464.2,444.9 468.7,446.9 470.4,447.1 C472.1,447.3 475.3,446.8 476.0,446.0 C476.7,445.2 475.6,441.2 476.0,440.4 C476.4,439.6 478.4,438.9 478.8,439.6 C479.2,440.3 479.2,445.2 479.6,446.0 C480.0,446.8 481.8,446.9 482.1,446.0 C482.5,444.9 482.5,436.7 482.9,436.8 C483.2,436.9 484.4,446.6 484.9,446.5 C485.4,446.4 486.6,436.3 487.1,436.0 C487.6,435.7 488.5,441.6 489.0,443.8 C489.5,446.0 490.5,451.8 491.3,453.5 C492.1,455.2 494.5,456.8 495.4,457.1 C496.3,457.4 498.3,456.8 498.8,456.2 C499.3,455.6 499.2,452.9 499.6,452.6 C500.0,452.3 501.3,452.9 501.8,453.5 C502.3,454.1 503.2,456.9 503.8,457.6 C504.4,458.3 505.8,459.1 506.5,459.0 C507.2,458.9 507.9,457.2 509.3,457.1 C510.7,457.0 515.5,458.2 517.6,458.2 C519.7,458.2 523.9,457.6 526.0,457.1 C528.1,456.6 532.4,455.2 534.3,454.3 C536.2,453.4 539.6,451.0 541.2,449.9 C542.8,448.8 545.6,446.4 546.8,445.1 C548.0,443.8 550.1,441.0 550.9,439.6 C551.7,438.2 552.5,434.4 553.2,434.0 C553.9,433.6 555.4,435.5 556.5,436.0 C557.6,436.5 560.9,437.1 562.0,437.7 C563.1,438.2 564.7,440.4 565.4,440.4 C566.1,440.4 566.3,438.1 567.6,437.7 C568.9,437.2 574.7,435.8 575.9,436.8 C577.1,437.8 576.9,445.8 577.3,446.0 C577.6,446.2 577.8,439.6 578.7,438.8 C579.6,438.0 582.8,439.4 584.2,439.6 C585.6,439.8 588.1,440.6 589.8,440.4 C591.5,440.2 596.0,438.0 598.1,437.7 C600.2,437.4 604.0,437.9 606.4,437.7 C608.8,437.5 614.7,436.6 617.5,436.0 C620.3,435.4 626.3,433.7 628.6,433.2 C630.9,432.7 634.4,432.5 636.1,432.1 C637.8,431.8 640.9,430.8 642.4,430.4 C643.9,430.0 646.6,429.3 648.0,428.8 C649.4,428.3 652.4,426.8 653.6,426.4 C654.8,425.9 656.8,425.6 657.5,425.2 C658.2,424.8 659.2,423.8 659.5,423.2 C659.8,422.6 659.7,420.8 659.9,420.4 C660.1,419.9 660.8,419.5 661.1,419.6 C661.5,419.7 662.2,420.8 662.7,421.2 C663.2,421.6 664.2,422.6 664.7,422.8 C665.2,423.0 666.4,422.9 667.1,422.8 C667.8,422.7 669.5,422.1 670.3,422.0 C671.1,421.9 672.9,421.8 673.5,421.6 C674.1,421.5 675.4,421.1 675.5,420.8 C675.6,420.6 674.8,420.0 674.3,419.6 C673.8,419.2 672.6,417.9 671.9,417.6 C671.2,417.3 669.5,417.4 668.7,417.2 C667.9,417.0 666.3,416.4 665.5,416.0 C664.7,415.6 662.9,414.9 662.3,414.4 C661.6,413.9 660.6,412.7 660.3,412.0 C659.9,411.3 659.6,409.7 659.5,408.8 C659.4,407.9 659.4,405.7 659.1,404.9 C658.8,404.1 657.7,403.0 657.1,402.5 C656.5,402.0 655.1,401.3 654.4,400.9 C653.7,400.5 651.9,399.8 651.2,399.3 C650.6,398.9 649.5,397.8 649.2,397.3 C649.0,396.9 649.4,396.1 649.2,395.7 C649.1,395.2 648.0,394.1 648.0,393.7 C648.0,393.3 648.5,392.4 648.8,392.5 C649.0,392.6 649.6,393.8 650.0,394.1 C650.4,394.5 651.5,395.2 652.0,395.3 C652.5,395.4 653.8,395.2 654.4,395.3 C655.0,395.4 656.2,395.8 656.8,395.7 C657.4,395.6 658.5,394.5 659.1,394.1 C659.7,393.8 660.9,393.2 661.5,392.9 C662.1,392.6 663.2,391.9 663.9,391.7 C664.5,391.4 666.3,391.1 666.7,390.9 C667.1,390.6 667.3,389.9 667.1,389.7 C666.9,389.4 665.3,389.2 665.1,388.9 C664.9,388.6 665.1,387.7 665.5,387.3 C665.9,386.9 667.3,386.1 667.9,385.7 C668.5,385.3 669.7,384.8 670.3,384.5 C670.9,384.2 672.2,383.8 672.7,383.3 C673.2,382.9 674.1,381.5 674.3,380.9 C674.5,380.3 674.4,379.2 674.1,378.5 C673.9,377.8 672.9,376.0 672.3,375.3 C671.7,374.6 670.3,373.1 669.5,372.9 C668.7,372.6 666.3,373.5 665.9,373.3 C665.5,373.1 666.3,371.9 666.3,371.3 C666.3,370.7 666.3,369.1 665.9,368.8 C665.5,368.5 663.5,368.6 662.7,368.9 C662.0,369.2 660.6,370.3 659.9,370.9 C659.2,371.5 657.6,373.0 657.1,373.7 C656.6,374.4 656.3,376.1 656.0,376.5 C655.7,376.9 654.8,377.0 654.4,376.9 C654.0,376.8 653.3,375.9 653.2,375.3 C653.1,374.7 653.5,373.0 653.6,372.1 C653.8,371.2 654.4,369.1 654.4,368.1 C654.4,367.1 653.5,365.1 653.2,364.2 C653.0,363.3 652.2,361.1 652.4,360.6 C652.6,360.2 654.3,360.4 654.8,360.6 C655.3,360.8 656.0,361.9 656.4,362.2 C656.8,362.5 657.6,363.5 657.9,363.4 C658.2,363.3 658.8,361.8 658.7,361.4 C658.6,361.0 657.3,360.9 656.8,360.6 C656.3,360.3 654.9,359.1 654.4,359.0 C653.9,358.9 652.9,359.8 652.4,359.8 C651.9,359.9 650.8,359.7 650.4,359.4 C650.0,359.1 649.6,357.8 649.6,357.4 C649.6,356.9 650.1,356.0 650.4,355.8 C650.7,355.6 651.5,355.6 652.0,355.8 C652.5,356.0 653.5,357.2 654.0,357.4 C654.5,357.5 656.0,357.2 656.4,357.0 C656.8,356.8 657.2,356.1 657.1,355.8 C657.0,355.5 655.7,354.7 655.6,354.4 C655.5,354.1 656.0,353.5 656.4,353.4 C656.8,353.3 658.4,353.7 659.1,353.6 C659.8,353.6 661.5,353.2 662.3,353.0 C663.1,352.8 664.9,352.3 665.5,351.8 C666.1,351.3 666.7,349.9 667.1,349.0 C667.5,348.1 668.2,346.7 668.7,345.0 C669.2,343.2 670.6,337.5 671.3,334.9 C672.0,332.2 673.8,326.4 674.1,323.8 C674.4,321.2 674.1,316.4 673.6,314.1 C673.1,311.9 671.1,307.4 670.0,305.8 C668.9,304.2 666.0,301.8 664.4,301.1 C662.8,300.4 659.2,300.1 657.5,300.2 C655.8,300.3 651.9,302.1 651.1,301.6 C650.3,301.2 650.3,297.6 651.1,296.6 C651.9,295.6 656.0,294.1 657.5,293.3 C659.0,292.5 662.1,291.2 663.0,290.0 C663.9,288.8 663.7,284.9 664.4,283.6 C665.1,282.4 667.2,280.6 668.6,280.0 C670.0,279.4 673.8,279.3 675.5,278.9 C677.2,278.5 680.8,276.7 682.5,276.7 C684.2,276.7 688.0,278.6 689.4,278.9 C690.8,279.2 693.1,278.9 693.6,279.4 C694.1,279.9 692.4,282.1 693.6,282.8 C694.8,283.5 700.7,284.2 703.3,285.0 C705.9,285.8 711.6,288.1 714.4,289.1 C717.2,290.1 722.7,292.6 725.5,293.3 C728.3,294.0 734.0,294.3 736.6,294.7 C739.2,295.1 744.4,295.4 746.3,296.1 C748.2,296.8 750.2,298.5 751.8,300.2 C753.4,301.9 756.9,307.6 758.8,310.0 C760.7,312.4 765.0,317.4 767.1,319.7 C769.2,321.9 773.0,326.1 775.4,328.0 C777.8,329.9 783.7,333.5 786.5,334.9 C789.3,336.3 794.8,338.3 797.6,339.1 C800.4,339.9 805.9,340.7 808.7,341.0 C811.5,341.3 817.0,341.6 819.8,341.3 C822.6,341.0 828.5,339.3 830.9,338.3 C833.3,337.3 836.9,334.4 839.3,333.5 C841.7,332.6 847.3,331.6 850.4,330.8 C853.5,330.0 860.7,328.1 864.2,327.2 C867.7,326.3 875.0,324.3 878.1,323.3 C881.2,322.3 886.1,320.0 889.2,319.1 C892.3,318.2 899.2,316.8 903.1,316.3 C907.0,315.9 916.1,315.5 920.0,315.5 C923.9,315.5 932.2,316.4 934.0,316.5"/>
<path class="thick" d="M417.7,430.4 C416.0,431.1 408.0,435.0 403.8,436.1 C399.6,437.2 387.0,438.1 384.4,438.9 C383.0,439.3 383.0,441.3 383.0,442.2 C383.0,443.1 384.5,444.6 384.4,446.4 C384.2,448.5 382.1,455.6 381.6,458.9 C381.1,462.2 380.2,468.9 380.2,472.7 C380.2,476.5 381.2,485.9 381.6,489.4 C382.0,492.9 382.3,498.4 383.0,500.5 C383.7,502.6 385.3,504.8 387.2,506.0 C389.1,507.2 395.5,509.1 398.3,510.2 C401.1,511.2 407.4,513.4 409.4,514.4 C411.4,515.4 413.6,516.4 414.4,518.5 C415.2,520.6 415.6,528.0 415.5,531.0 C415.4,534.0 413.6,539.8 413.5,542.1 C413.4,544.4 413.7,547.7 414.4,549.1 C415.1,550.5 417.3,552.5 419.1,553.2 C420.9,553.9 426.7,553.6 428.8,554.6 C430.9,555.6 434.4,559.5 435.8,561.6 C437.2,563.7 439.1,568.7 439.9,571.3 C440.7,573.9 441.8,579.6 442.1,582.4 C442.5,585.2 441.9,591.2 442.7,593.5 C443.5,595.8 447.0,598.3 448.2,600.4 C449.4,602.5 451.5,608.8 452.4,610.1 C453.1,611.1 454.5,610.1 455.2,611.1 C456.2,612.6 459.8,619.7 460.7,622.2 C461.6,624.7 462.8,628.0 462.7,631.1 C462.6,634.2 460.5,643.3 459.9,647.2 C459.3,651.1 458.6,659.6 458.0,662.4 C457.4,665.2 456.4,668.9 455.2,669.9 C454.0,670.9 451.0,670.8 448.2,670.8 C444.2,670.7 429.9,669.8 423.3,669.4 C416.7,669.0 402.4,668.2 395.5,668.0 C388.6,667.8 373.0,667.6 367.8,668.0 C362.6,668.4 357.4,670.6 353.9,670.8 C350.4,671.0 343.4,669.9 340.0,669.9 C336.6,669.9 330.2,670.8 326.4,670.8 C322.6,670.8 312.6,669.8 309.8,669.9 C307.5,670.0 305.4,671.7 304.2,671.6 C303.0,671.5 300.9,670.5 300.1,669.4 C299.3,668.2 299.0,664.0 298.1,662.4 C297.2,660.8 294.6,658.2 293.1,656.9 C291.6,655.6 288.6,652.9 286.2,652.2 C283.8,651.5 276.6,651.9 273.7,651.3 C270.8,650.7 265.4,648.4 262.6,647.7 C259.8,647.0 253.9,646.5 251.5,645.8 C249.1,645.1 245.0,643.1 243.2,642.2 C241.4,641.3 238.5,639.0 237.1,638.9 C235.7,638.8 232.4,640.9 232.1,641.6 C231.8,642.3 233.6,643.6 234.9,644.4 C236.3,645.3 241.5,647.7 243.2,648.6 C244.9,649.5 247.5,649.7 248.2,651.3 C248.9,652.9 249.1,659.5 248.7,661.1 C248.2,662.7 246.7,664.1 244.6,664.4 C242.5,664.7 235.0,663.7 232.1,663.8 C229.2,663.9 222.9,665.5 221.0,665.2 C219.1,664.9 217.6,663.0 216.8,661.1 C216.0,659.2 215.5,653.1 214.9,650.0 C214.3,646.9 212.9,638.5 212.1,636.1 C211.3,633.7 209.8,631.4 208.5,630.5 C207.2,629.6 203.1,629.7 201.5,629.1 C199.9,628.5 196.8,626.0 195.4,625.8 C194.0,625.6 191.9,626.7 190.4,627.8 C188.9,628.9 185.6,632.6 183.5,634.7 C181.4,636.8 176.1,642.0 173.8,644.4 C171.6,646.8 167.6,652.3 165.5,654.1 C163.4,655.9 157.7,656.5 157.1,658.8 C156.5,661.1 159.4,668.5 160.5,672.2 C161.6,676.0 164.2,685.2 165.5,688.8 C166.8,692.4 169.7,698.6 170.5,701.3 C171.3,704.0 170.6,709.1 171.6,710.5 C172.6,711.9 177.4,711.0 178.8,712.4 C180.2,713.8 182.4,719.2 182.6,721.5 C182.8,723.8 181.6,728.1 180.7,730.4 C179.8,732.7 176.9,737.9 175.2,740.2 C173.5,742.5 169.2,747.2 166.9,748.5 C164.6,749.8 159.7,750.5 157.1,750.7 C154.5,750.9 148.5,749.8 146.0,749.8 C143.5,749.8 138.5,750.0 137.2,750.7 C135.8,751.5 135.0,753.9 135.2,755.8 C135.4,757.7 138.5,763.1 138.8,765.8 C139.1,768.5 138.3,774.9 137.7,777.6 C137.1,780.3 134.7,784.7 133.8,787.5 C132.9,790.3 130.8,796.5 130.8,799.9 C130.8,803.3 132.4,810.9 134.1,814.5 C135.8,818.1 142.7,825.2 144.5,829.1 C146.3,833.0 146.9,841.0 148.7,845.7 C150.5,850.4 157.8,862.2 159.1,866.5 C160.4,870.8 159.8,876.9 159.4,880.0 C159.0,883.1 156.2,887.6 155.8,891.1 C155.4,894.6 155.5,902.9 155.8,907.8 C156.1,912.7 158.5,925.5 158.5,930.0 C158.5,934.5 156.0,940.0 155.8,943.8 C155.6,947.6 156.6,957.4 157.1,960.5 C157.6,963.6 158.4,967.7 159.9,968.8 C161.4,969.9 166.0,967.5 168.8,969.4 C171.6,971.3 179.4,981.1 182.1,984.1 C184.8,987.1 188.0,992.8 190.4,993.8 C192.8,994.8 199.1,991.2 201.5,992.4 C203.9,993.6 208.0,1000.5 209.9,1003.5 C211.8,1006.5 215.1,1014.1 216.8,1016.0 C218.5,1017.9 222.1,1017.7 223.8,1018.8 C225.5,1019.9 230.7,1023.2 230.7,1024.9 C230.7,1026.6 225.9,1030.8 223.8,1032.1 C221.7,1033.4 215.6,1033.8 214.0,1035.4 C212.4,1037.0 212.0,1043.0 211.3,1045.1 C210.6,1047.2 210.4,1050.8 208.5,1052.1 C206.6,1053.4 197.6,1055.0 196.0,1055.4"/>
<path class="thick" d="M462.7,631.1 C464.4,630.9 472.6,629.4 476.0,629.1 C479.4,628.8 487.9,628.2 489.9,628.6 C491.5,628.9 492.4,630.3 492.1,631.9 C491.8,633.7 488.4,640.0 487.1,643.0 C485.8,646.0 482.5,652.7 481.5,655.5 C480.5,658.3 478.8,663.3 478.8,665.2 C478.8,667.1 480.1,669.9 481.5,670.8 C482.9,671.7 488.2,672.4 489.9,672.2 C491.6,672.0 493.8,670.3 495.4,669.4 C497.0,668.5 499.6,666.0 502.4,665.2 C505.2,664.4 515.0,664.2 517.6,663.3 C520.2,662.4 521.6,658.4 523.2,657.7 C524.8,657.0 528.5,657.5 530.1,657.7 C531.7,658.0 534.3,658.6 535.7,659.7 C537.1,660.8 540.0,665.7 541.2,666.6 C542.4,667.5 543.8,666.2 545.4,666.6 C547.0,667.0 551.6,668.7 553.7,669.9 C555.8,671.1 559.8,674.8 562.0,676.3 C564.2,677.8 569.6,681.1 571.7,681.9 C573.8,682.7 577.3,683.4 578.7,682.7 C580.1,682.0 581.8,678.5 582.8,676.3 C583.8,674.1 586.1,667.5 586.5,665.2 C586.9,663.0 585.5,661.1 585.6,658.3 C585.7,655.3 586.3,645.1 587.0,641.6 C587.7,638.1 590.7,633.1 591.2,630.5 C591.7,627.9 592.1,622.7 591.2,620.8 C590.3,618.9 585.1,617.8 584.2,615.3 C583.3,612.8 584.2,602.8 583.7,600.4 C583.2,598.2 580.7,597.9 580.1,596.2 C579.5,594.5 578.7,588.2 579.2,586.5 C579.7,584.8 581.8,583.3 584.2,582.4 C586.9,581.4 597.4,579.5 600.9,578.8 C604.4,578.1 610.1,578.9 612.0,576.8 C613.9,574.6 614.8,564.9 616.2,561.6 C617.6,558.3 621.2,553.5 623.1,550.4 C625.0,547.3 629.8,540.8 631.4,536.6 C633.0,532.4 635.0,524.2 635.6,517.1 C636.2,510.0 636.1,490.6 636.2,480.0 C636.3,469.4 636.2,438.1 636.2,432.1"/>
<ellipse class="islf" cx="293.2" cy="143.7" rx="1.5" ry="2.1" transform="rotate(5 293.2 143.7)"/>
<ellipse class="islf" cx="273.0" cy="150.0" rx="1.9" ry="1.5" transform="rotate(-25 273.0 150.0)"/>
<ellipse class="isl" cx="267.8" cy="194.9" rx="2.9" ry="1.6" transform="rotate(15 267.8 194.9)"/>
<ellipse class="islf" cx="306.8" cy="232.4" rx="1.4" ry="2.4" transform="rotate(20 306.8 232.4)"/>
<ellipse class="islf" cx="311.6" cy="226.9" rx="3.3" ry="1.9" transform="rotate(15 311.6 226.9)"/>
<ellipse class="islf" cx="309.3" cy="224.8" rx="1.4" ry="1.4" transform="rotate(0 309.3 224.8)"/>
<ellipse class="isl" cx="294.3" cy="289.6" rx="1.5" ry="3.8" transform="rotate(-35 294.3 289.6)"/>
<ellipse class="isl" cx="303.0" cy="296.1" rx="2.2" ry="1.6" transform="rotate(25 303.0 296.1)"/>
<ellipse class="isl" cx="335.4" cy="302.4" rx="2.6" ry="1.4" transform="rotate(10 335.4 302.4)"/>
<ellipse class="isl" cx="238.4" cy="313.8" rx="1.5" ry="2.8" transform="rotate(0 238.4 313.8)"/>
<ellipse class="isl" cx="389.4" cy="329.1" rx="3.0" ry="3.4" transform="rotate(-15 389.4 329.1)"/>
<ellipse class="isl" cx="402.4" cy="331.6" rx="3.7" ry="2.2" transform="rotate(15 402.4 331.6)"/>
<ellipse class="isl" cx="523.2" cy="314.1" rx="2.6" ry="2.6" transform="rotate(0 523.2 314.1)"/>
<ellipse class="islf" cx="525.4" cy="337.7" rx="1.7" ry="1.7" transform="rotate(0 525.4 337.7)"/>
<ellipse class="islf" cx="467.7" cy="355.5" rx="2.3" ry="1.7" transform="rotate(0 467.7 355.5)"/>
<ellipse class="islf" cx="426.6" cy="381.3" rx="1.8" ry="1.8" transform="rotate(0 426.6 381.3)"/>
<ellipse class="islf" cx="427.4" cy="386.6" rx="1.5" ry="1.5" transform="rotate(0 427.4 386.6)"/>
<ellipse class="islf" cx="437.1" cy="383.2" rx="1.6" ry="1.6" transform="rotate(0 437.1 383.2)"/>
<ellipse class="isl" cx="547.6" cy="446.5" rx="1.2" ry="2.4" transform="rotate(20 547.6 446.5)"/>
<ellipse class="islf" cx="671.2" cy="386.2" rx="1.1" ry="0.9" transform="rotate(0 671.2 386.2)"/>
<path class="isl" d="M201.7,170.4 L208.9,171.3 L214.4,172.2 L217.9,171.6 L221.4,174.3 L229.7,177.9 L220.0,175.5 L211.7,173.5 L203.3,171.6 Z"/>
<path class="isl" d="M317.4,231.4 L322.7,226.7 L328.2,224.4 L335.8,223.8 L331.0,225.6 L326.8,227.2 L321.5,229.6 Z"/>
<path d="M235.5,178.4 L246.1,179.6" fill="none" stroke="#000" stroke-width="2.9" stroke-linecap="round"/>
<path d="M661.2,373.7 L665.6,373.7" fill="none" stroke="#000" stroke-width="1.6"/>
<text x="932.6" y="1052.9" font-size="10.45" text-anchor="end">©Sub Bidang Prediksi Cuaca BMKG, 2023</text>
</g>
<rect x="62.4" y="132.4" width="871.2" height="924" fill="none" stroke="#000" stroke-width="2.8"/>
<text x="25.6" y="357" font-size="17.5">6°S</text>
<text x="661.5" y="1079" font-size="17.5" text-anchor="middle">107°E</text>
<text x="62" y="1100.8" font-size="17.5">Model: IFS 0.125</text>
<text x="933" y="1100.8" font-size="17.5" text-anchor="end">Sumber: CIPS BMKG</text>
<path d="M980.2,1 H1053.9 V207 L1017,157.6 L980.2,207 Z" fill="#0068a8"/>
<text class="b" font-size="40.6" fill="#fff" style="fill:#fff" text-anchor="middle" transform="translate(1031.4,68.3) rotate(-90)">IFS</text>
<rect x="971.5" y="224.30" width="17" height="34.50" fill="#2d004b"/>
<rect x="971.5" y="258.50" width="17" height="48.30" fill="#053061"/>
<rect x="971.5" y="306.50" width="17" height="48.30" fill="#2166ac"/>
<rect x="971.5" y="354.50" width="17" height="48.30" fill="#4393c3"/>
<rect x="971.5" y="402.50" width="17" height="48.30" fill="#92c5de"/>
<rect x="971.5" y="450.50" width="17" height="48.30" fill="#d1e5f0"/>
<rect x="971.5" y="498.50" width="17" height="48.30" fill="#f7f7f7"/>
<rect x="971.5" y="546.50" width="17" height="48.30" fill="#ffe100"/>
<rect x="971.5" y="594.50" width="17" height="48.30" fill="#fee391"/>
<rect x="971.5" y="642.50" width="17" height="48.30" fill="#fec44f"/>
<rect x="971.5" y="690.50" width="17" height="48.30" fill="#fe9929"/>
<rect x="971.5" y="738.50" width="17" height="48.30" fill="#cc4c02"/>
<rect x="971.5" y="786.50" width="17" height="48.30" fill="#993404"/>
<rect x="971.5" y="834.50" width="17" height="48.30" fill="#662506"/>
<rect x="971.5" y="882.50" width="17" height="48.30" fill="#a50f15"/>
<rect x="971.5" y="930.50" width="17" height="34.10" fill="#e83a30"/>
<rect x="970.6" y="224.3" width="18.8" height="740.0" fill="none" stroke="#000" stroke-width="2.8"/>
<line x1="990.5" y1="258.5" x2="1001.8" y2="258.5" stroke="#000" stroke-width="2.8"/>
<text x="1014.6" y="264.9" font-size="16.5">100.0</text>
<line x1="990.5" y1="306.5" x2="1001.8" y2="306.5" stroke="#000" stroke-width="2.8"/>
<text x="1014.6" y="312.9" font-size="16.5">90.0</text>
<line x1="990.5" y1="354.5" x2="1001.8" y2="354.5" stroke="#000" stroke-width="2.8"/>
<text x="1014.6" y="360.9" font-size="16.5">80.0</text>
<line x1="990.5" y1="402.5" x2="1001.8" y2="402.5" stroke="#000" stroke-width="2.8"/>
<text x="1014.6" y="408.9" font-size="16.5">70.0</text>
<line x1="990.5" y1="450.5" x2="1001.8" y2="450.5" stroke="#000" stroke-width="2.8"/>
<text x="1014.6" y="456.9" font-size="16.5">60.0</text>
<line x1="990.5" y1="498.5" x2="1001.8" y2="498.5" stroke="#000" stroke-width="2.8"/>
<text x="1014.6" y="504.9" font-size="16.5">50.0</text>
<line x1="990.5" y1="546.5" x2="1001.8" y2="546.5" stroke="#000" stroke-width="2.8"/>
<text x="1014.6" y="552.9" font-size="16.5">40.0</text>
<line x1="990.5" y1="594.5" x2="1001.8" y2="594.5" stroke="#000" stroke-width="2.8"/>
<text x="1014.6" y="600.9" font-size="16.5">30.0</text>
<line x1="990.5" y1="642.5" x2="1001.8" y2="642.5" stroke="#000" stroke-width="2.8"/>
<text x="1014.6" y="648.9" font-size="16.5">20.0</text>
<line x1="990.5" y1="690.5" x2="1001.8" y2="690.5" stroke="#000" stroke-width="2.8"/>
<text x="1014.6" y="696.9" font-size="16.5">10.0</text>
<line x1="990.5" y1="738.5" x2="1001.8" y2="738.5" stroke="#000" stroke-width="2.8"/>
<text x="1014.6" y="744.9" font-size="16.5">5.0</text>
<line x1="990.5" y1="786.5" x2="1001.8" y2="786.5" stroke="#000" stroke-width="2.8"/>
<text x="1014.6" y="792.9" font-size="16.5">2.0</text>
<line x1="990.5" y1="834.5" x2="1001.8" y2="834.5" stroke="#000" stroke-width="2.8"/>
<text x="1014.6" y="840.9" font-size="16.5">1.0</text>
<line x1="990.5" y1="882.5" x2="1001.8" y2="882.5" stroke="#000" stroke-width="2.8"/>
<text x="1014.6" y="888.9" font-size="16.5">0.5</text>
<line x1="990.5" y1="930.5" x2="1001.8" y2="930.5" stroke="#000" stroke-width="2.8"/>
<text x="1014.6" y="936.9" font-size="16.5">0.0</text>
</svg></body></html>
